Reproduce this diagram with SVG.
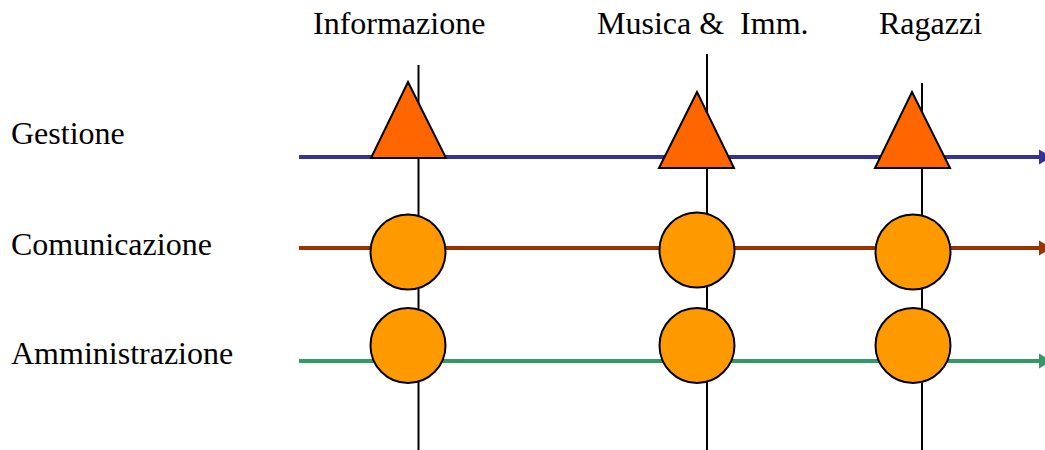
<svg xmlns="http://www.w3.org/2000/svg" width="1045" height="450" viewBox="0 0 1045 450">
  <style>
    .lbl { font-family: "Liberation Serif", "Times New Roman", serif; font-size: 32px; fill: #000; }
    .axis { stroke: #000; stroke-width: 2; fill: none; }
    .tri { fill: #FF6600; stroke: #000; stroke-width: 2; stroke-linejoin: miter; }
    .dot { fill: #FF9900; stroke: #000; stroke-width: 2; }
    .track { stroke-width: 4; fill: none; }
  </style>
  <defs>
    <marker id="ahBlue" markerUnits="userSpaceOnUse" markerWidth="14" markerHeight="16" refX="0" refY="8" orient="auto" viewBox="0 0 14 16">
      <path d="M0,0.5 L13,8 L0,15.5 z" fill="#333399"/>
    </marker>
    <marker id="ahBrown" markerUnits="userSpaceOnUse" markerWidth="14" markerHeight="16" refX="0" refY="8" orient="auto" viewBox="0 0 14 16">
      <path d="M0,0.5 L13,8 L0,15.5 z" fill="#993300"/>
    </marker>
    <marker id="ahGreen" markerUnits="userSpaceOnUse" markerWidth="14" markerHeight="16" refX="0" refY="8" orient="auto" viewBox="0 0 14 16">
      <path d="M0,0.5 L13,8 L0,15.5 z" fill="#339966"/>
    </marker>
  </defs>
  <rect x="0" y="0" width="1045" height="450" fill="#fff"/>

  <g id="labels">
    <text class="lbl" x="313" y="34">Informazione</text>
    <text class="lbl" x="597" y="34" xml:space="preserve">Musica &amp;  Imm.</text>
    <text class="lbl" x="879" y="34">Ragazzi</text>
    <text class="lbl" x="11" y="144">Gestione</text>
    <text class="lbl" x="11" y="255">Comunicazione</text>
    <text class="lbl" x="11" y="364">Amministrazione</text>
  </g>

  <g id="connectors">
    <line class="track" x1="299" y1="157" x2="1039" y2="157" stroke="#333399" marker-end="url(#ahBlue)"/>
    <line class="track" x1="299" y1="248" x2="1039" y2="248" stroke="#993300" marker-end="url(#ahBrown)"/>
    <line class="track" x1="299" y1="361" x2="1039" y2="361" stroke="#339966" marker-end="url(#ahGreen)"/>
    <line class="axis" x1="418.5" y1="65" x2="418.5" y2="450"/>
    <line class="axis" x1="707" y1="54" x2="707" y2="450"/>
    <line class="axis" x1="922" y1="83" x2="922" y2="450"/>
  </g>

  <g id="informazione-gestione"><polygon class="tri" points="408,82 446,158 371,158"/></g>
  <g id="musica-gestione"><polygon class="tri" points="697,92 734,168 659,168"/></g>
  <g id="ragazzi-gestione"><polygon class="tri" points="912,92 950,168 875,168"/></g>

  <g id="informazione-comunicazione"><circle class="dot" cx="408" cy="252" r="37.5"/></g>
  <g id="musica-comunicazione"><circle class="dot" cx="697" cy="250" r="37.5"/></g>
  <g id="ragazzi-comunicazione"><circle class="dot" cx="913" cy="252" r="37.5"/></g>

  <g id="informazione-amministrazione"><circle class="dot" cx="408" cy="345.5" r="37.5"/></g>
  <g id="musica-amministrazione"><circle class="dot" cx="697" cy="345.5" r="37.5"/></g>
  <g id="ragazzi-amministrazione"><circle class="dot" cx="913" cy="345.5" r="37.5"/></g>
</svg>
